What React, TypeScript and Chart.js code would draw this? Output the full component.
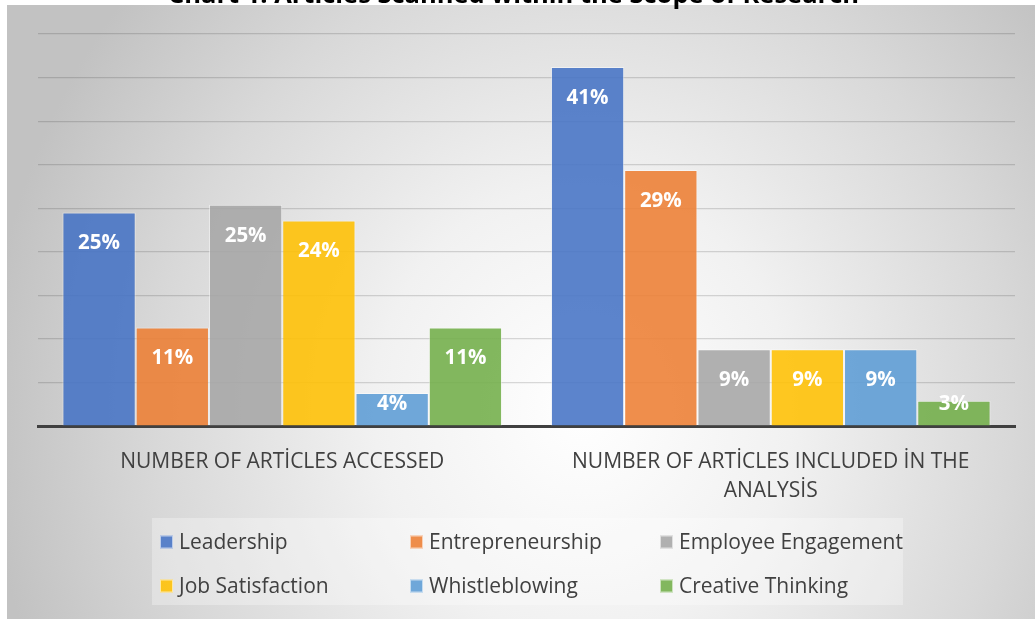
import React, { useEffect, useRef } from "react";
import { Chart, registerables } from "chart.js";

Chart.register(...registerables);

// ---- data ----
const categories: string[][] = [
  ["NUMBER OF ARTİCLES ACCESSED"],
  ["NUMBER OF ARTİCLES INCLUDED İN THE", "ANALYSİS"],
];
const seriesNames = [
  "Leadership",
  "Entrepreneurship",
  "Employee Engagement",
  "Job Satisfaction",
  "Whistleblowing",
  "Creative Thinking",
];
const leadership = [24.5, 41.2];
const entrepreneurship = [11.3, 29.4];
const employeeEngagement = [25.4, 8.8];
const jobSatisfaction = [23.6, 8.8];
const whistleblowing = [3.8, 8.8];
const creativeThinking = [11.3, 2.9];
const yTicks = { min: 0, max: 45, step: 5 };
const titleText = "Chart 1: Articles Scanned within the Scope of Research";

const seriesValues = [
  leadership,
  entrepreneurship,
  employeeEngagement,
  jobSatisfaction,
  whistleblowing,
  creativeThinking,
];
const seriesColors = [
  "rgba(68,114,196,0.87)",
  "rgba(237,125,49,0.87)",
  "rgba(165,165,165,0.87)",
  "rgba(255,192,0,0.87)",
  "rgba(91,155,213,0.87)",
  "rgba(112,173,71,0.87)",
];

const FONT = "'Open Sans', Lato, sans-serif";

const dataLabelPlugin = {
  id: "dataLabels",
  afterDatasetsDraw(chart: any) {
    const ctx = chart.ctx;
    ctx.save();
    ctx.font = `bold 20.5px ${FONT}`;
    ctx.fillStyle = "#ffffff";
    ctx.textAlign = "center";
    ctx.textBaseline = "middle";
    chart.data.datasets.forEach((ds: any, di: number) => {
      const meta = chart.getDatasetMeta(di);
      meta.data.forEach((el: any, i: number) => {
        const v = ds.data[i];
        const y = Math.min(el.y + 31, el.base - 21);
        ctx.fillText(Math.round(v) + "%", el.x, y);
      });
    });
    ctx.restore();
  },
};

const legendPlugin = {
  id: "customLegend",
  afterDraw(chart: any) {
    const ctx = chart.ctx;
    ctx.save();
    const boxL = 145, boxT = 513, boxW = 751, boxH = 87;
    ctx.fillStyle = "rgba(255,255,255,0.3)";
    ctx.fillRect(boxL, boxT, boxW, boxH);
    ctx.font = `21px ${FONT}`;
    ctx.textBaseline = "middle";
    ctx.textAlign = "left";
    chart.data.datasets.forEach((ds: any, i: number) => {
      const col = i % 3;
      const row = Math.floor(i / 3);
      const mx = 153 + col * 250;
      const my = 537 + row * 44;
      ctx.fillStyle = ds.backgroundColor;
      ctx.fillRect(mx, my - 6.5, 13, 13);
      ctx.strokeStyle = "rgba(255,255,255,0.6)";
      ctx.lineWidth = 1;
      ctx.strokeRect(mx + 0.5, my - 6, 12, 12);
      ctx.fillStyle = "#404040";
      ctx.fillText(ds.label, mx + 19, my + 1.5);
    });
    ctx.restore();
  },
};

export default function App() {
  const ref = useRef<HTMLCanvasElement | null>(null);

  useEffect(() => {
    if (!ref.current) return;
    const chart = new Chart(ref.current, {
      type: "bar",
      data: {
        labels: categories as any,
        datasets: seriesNames.map((name, i) => ({
          label: name,
          data: seriesValues[i],
          backgroundColor: seriesColors[i],
          borderColor: "rgba(255,255,255,0.45)",
          borderWidth: 1,
          barPercentage: 1,
          categoryPercentage: 0.9,
        })),
      },
      options: {
        animation: false,
        responsive: true,
        maintainAspectRatio: false,
        layout: { padding: { left: 31, right: 20, top: 29, bottom: 103 } },
        plugins: {
          legend: { display: false },
          tooltip: { enabled: false },
          title: { display: false },
        },
        scales: {
          x: {
            grid: { display: true, color: "transparent", drawTicks: false },
            border: { display: true, color: "#404040", width: 3 },
            ticks: {
              color: "#404040",
              font: { family: FONT, size: 21, lineHeight: 1.38 },
              padding: 22,
              maxRotation: 0,
              autoSkip: false,
            },
            afterFit: (s: any) => {
              s.height = 90;
            },
          },
          y: {
            min: yTicks.min,
            max: yTicks.max,
            ticks: { stepSize: yTicks.step, display: false },
            grid: { color: "rgba(0,0,0,0.14)", lineWidth: 1.2, drawTicks: false },
            border: { display: false },
            afterFit: (s: any) => {
              s.width = 0;
            },
          },
        },
      },
      plugins: [dataLabelPlugin, legendPlugin],
    } as any);
    return () => chart.destroy();
  }, []);

  return (
    <div
      style={{
        position: "fixed",
        left: 0,
        top: 0,
        width: 1035,
        height: 619,
        overflow: "hidden",
        background: "#ffffff",
      }}
    >
      <div
        style={{
          position: "absolute",
          left: 7,
          top: 5,
          width: 1028,
          height: 614,
          background:
            "radial-gradient(ellipse 58% 105% at 56% 66%, #ffffff 0%, #f1f1f1 35%, #d8d8d8 72%, #c2c2c2 100%)",
        }}
      >
        <div style={{ position: "relative", width: 1028, height: 614 }}>
          <canvas ref={ref} />
        </div>
      </div>
      <div
        style={{
          position: "absolute",
          left: 0,
          width: 1035,
          top: -19,
          textAlign: "center",
          fontFamily: FONT,
          fontWeight: "bold",
          fontSize: 25.5,
          lineHeight: "25px",
          color: "#000",
          paddingRight: 8,
          boxSizing: "border-box",
        }}
      >
        {titleText}
      </div>
    </div>
  );
}
